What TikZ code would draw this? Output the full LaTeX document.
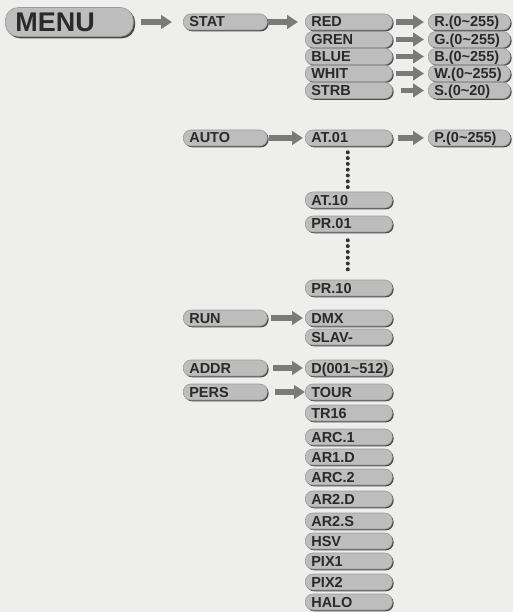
\documentclass[tikz,border=0pt]{standalone}
\usepackage{fontspec}
\setmainfont{Liberation Sans}
\usetikzlibrary{arrows.meta,shadows}
\definecolor{paper}{HTML}{EEEEEC}
\definecolor{boxfill}{HTML}{BDBDBD}
\definecolor{boxedge}{HTML}{9A9A9A}
\definecolor{boxshadow}{HTML}{4A4A4A}
\definecolor{boxtext}{HTML}{2A2A2A}
\definecolor{arrowgray}{HTML}{7A7A7A}
\definecolor{dotgray}{HTML}{333333}
\tikzset{
  pill/.style={rounded corners=7.5pt, fill=boxfill, draw=boxedge, line width=0.6pt,
    general shadow={fill=boxshadow, shadow xshift=1.3pt, shadow yshift=-1.3pt},
    text=boxtext, font=\bfseries\fontsize{14.5}{14.5}\selectfont, align=left,
    inner xsep=6pt, inner ysep=0pt, minimum height=16pt,
    text height=10.5pt, text depth=0.5pt, anchor=west},
  colA/.style={pill, text width=72pt},
  colB/.style={pill, text width=75pt},
  colC/.style={pill, text width=70pt},
  menubox/.style={pill, rounded corners=13pt, text width=108pt, inner xsep=10pt,
    minimum height=29pt, font=\bfseries\fontsize{27}{27}\selectfont,
    text height=20pt, text depth=0.5pt,
    general shadow={fill=boxshadow, shadow xshift=1.8pt, shadow yshift=-1.8pt}},
  conn/.style={draw=arrowgray, line width=5.5pt,
    -{Triangle[length=11pt,width=13.5pt]}, shorten <=3pt, shorten >=4pt},
  dotline/.style={draw=dotgray, line width=4pt, line cap=round,
    dash pattern=on 0pt off 5.8pt}
}
\begin{document}
\begin{tikzpicture}[x=1pt,y=-1pt]
\useasboundingbox[fill=paper] (0,0) rectangle (513,612);
% column 0
\node[menubox] (menu) at (5,22) {MENU};
% column 1
\node[colA] (stat) at (183,22) {STAT};
\node[colA] (auto) at (183,138) {AUTO};
\node[colA] (run)  at (183,318) {RUN};
\node[colA] (addr) at (183,368) {ADDR};
\node[colA] (pers) at (183,392) {PERS};
% column 2
\node[colB] (red)  at (305,22) {RED};
\node[colB] (gren) at (305,39.5) {GREN};
\node[colB] (blue) at (305,56.5) {BLUE};
\node[colB] (whit) at (305,73.5) {WHIT};
\node[colB] (strb) at (305,90.5) {STRB};
\node[colB] (at01) at (305,138) {AT.01};
\node[colB] (at10) at (305,200) {AT.10};
\node[colB] (pr01) at (305,224) {PR.01};
\node[colB] (pr10) at (305,288) {PR.10};
\node[colB] (dmx)  at (305,318) {DMX};
\node[colB] (slav) at (305,337) {SLAV-};
\node[colB] (dadr) at (305,368) {D(001\char`~512)};
\node[colB] (tour) at (305,392) {TOUR};
\node[colB] (tr16) at (305,413) {TR16};
\node[colB] (arc1) at (305,437) {ARC.1};
\node[colB] (ar1d) at (305,457) {AR1.D};
\node[colB] (arc2) at (305,477) {ARC.2};
\node[colB] (ar2d) at (305,499) {AR2.D};
\node[colB] (ar2s) at (305,521) {AR2.S};
\node[colB] (hsv)  at (305,541) {HSV};
\node[colB] (pix1) at (305,561) {PIX1};
\node[colB] (pix2) at (305,582) {PIX2};
\node[colB] (halo) at (305,602) {HALO};
% column 3
\node[colC] (rv) at (428,22) {R.(0\char`~255)};
\node[colC] (gv) at (428,39.5) {G.(0\char`~255)};
\node[colC] (bv) at (428,56.5) {B.(0\char`~255)};
\node[colC] (wv) at (428,73.5) {W.(0\char`~255)};
\node[colC] (sv) at (428,90.5) {S.(0\char`~20)};
\node[colC] (pv) at (428,138) {P.(0\char`~255)};
% connectors
\draw[conn, shorten <=7pt, shorten >=11pt] (menu) -- (stat);
\draw[conn, shorten <=0pt, shorten >=7pt] (stat) -- (red);
\draw[conn] (red) -- (rv);
\draw[conn] (gren) -- (gv);
\draw[conn] (blue) -- (bv);
\draw[conn] (whit) -- (wv);
\draw[conn, shorten <=8pt] (strb) -- (sv);
\draw[conn, shorten <=1pt, shorten >=2pt] (auto) -- (at01);
\draw[conn, shorten <=5pt] (at01) -- (pv);
\draw[conn, shorten <=3pt, shorten >=2pt] (run) -- (dmx);
\draw[conn, shorten <=5pt, shorten >=2pt] (addr) -- (dadr);
\draw[conn, shorten <=7pt, shorten >=0pt] (pers) -- (tour);
\draw[dotline] ([xshift=-1pt,yshift=-6pt]at01.south) -- ([xshift=-1pt,yshift=4pt]at10.north);
\draw[dotline] ([xshift=-1pt,yshift=-8pt]pr01.south) -- ([xshift=-1pt,yshift=7pt]pr10.north);
\end{tikzpicture}
\end{document}
